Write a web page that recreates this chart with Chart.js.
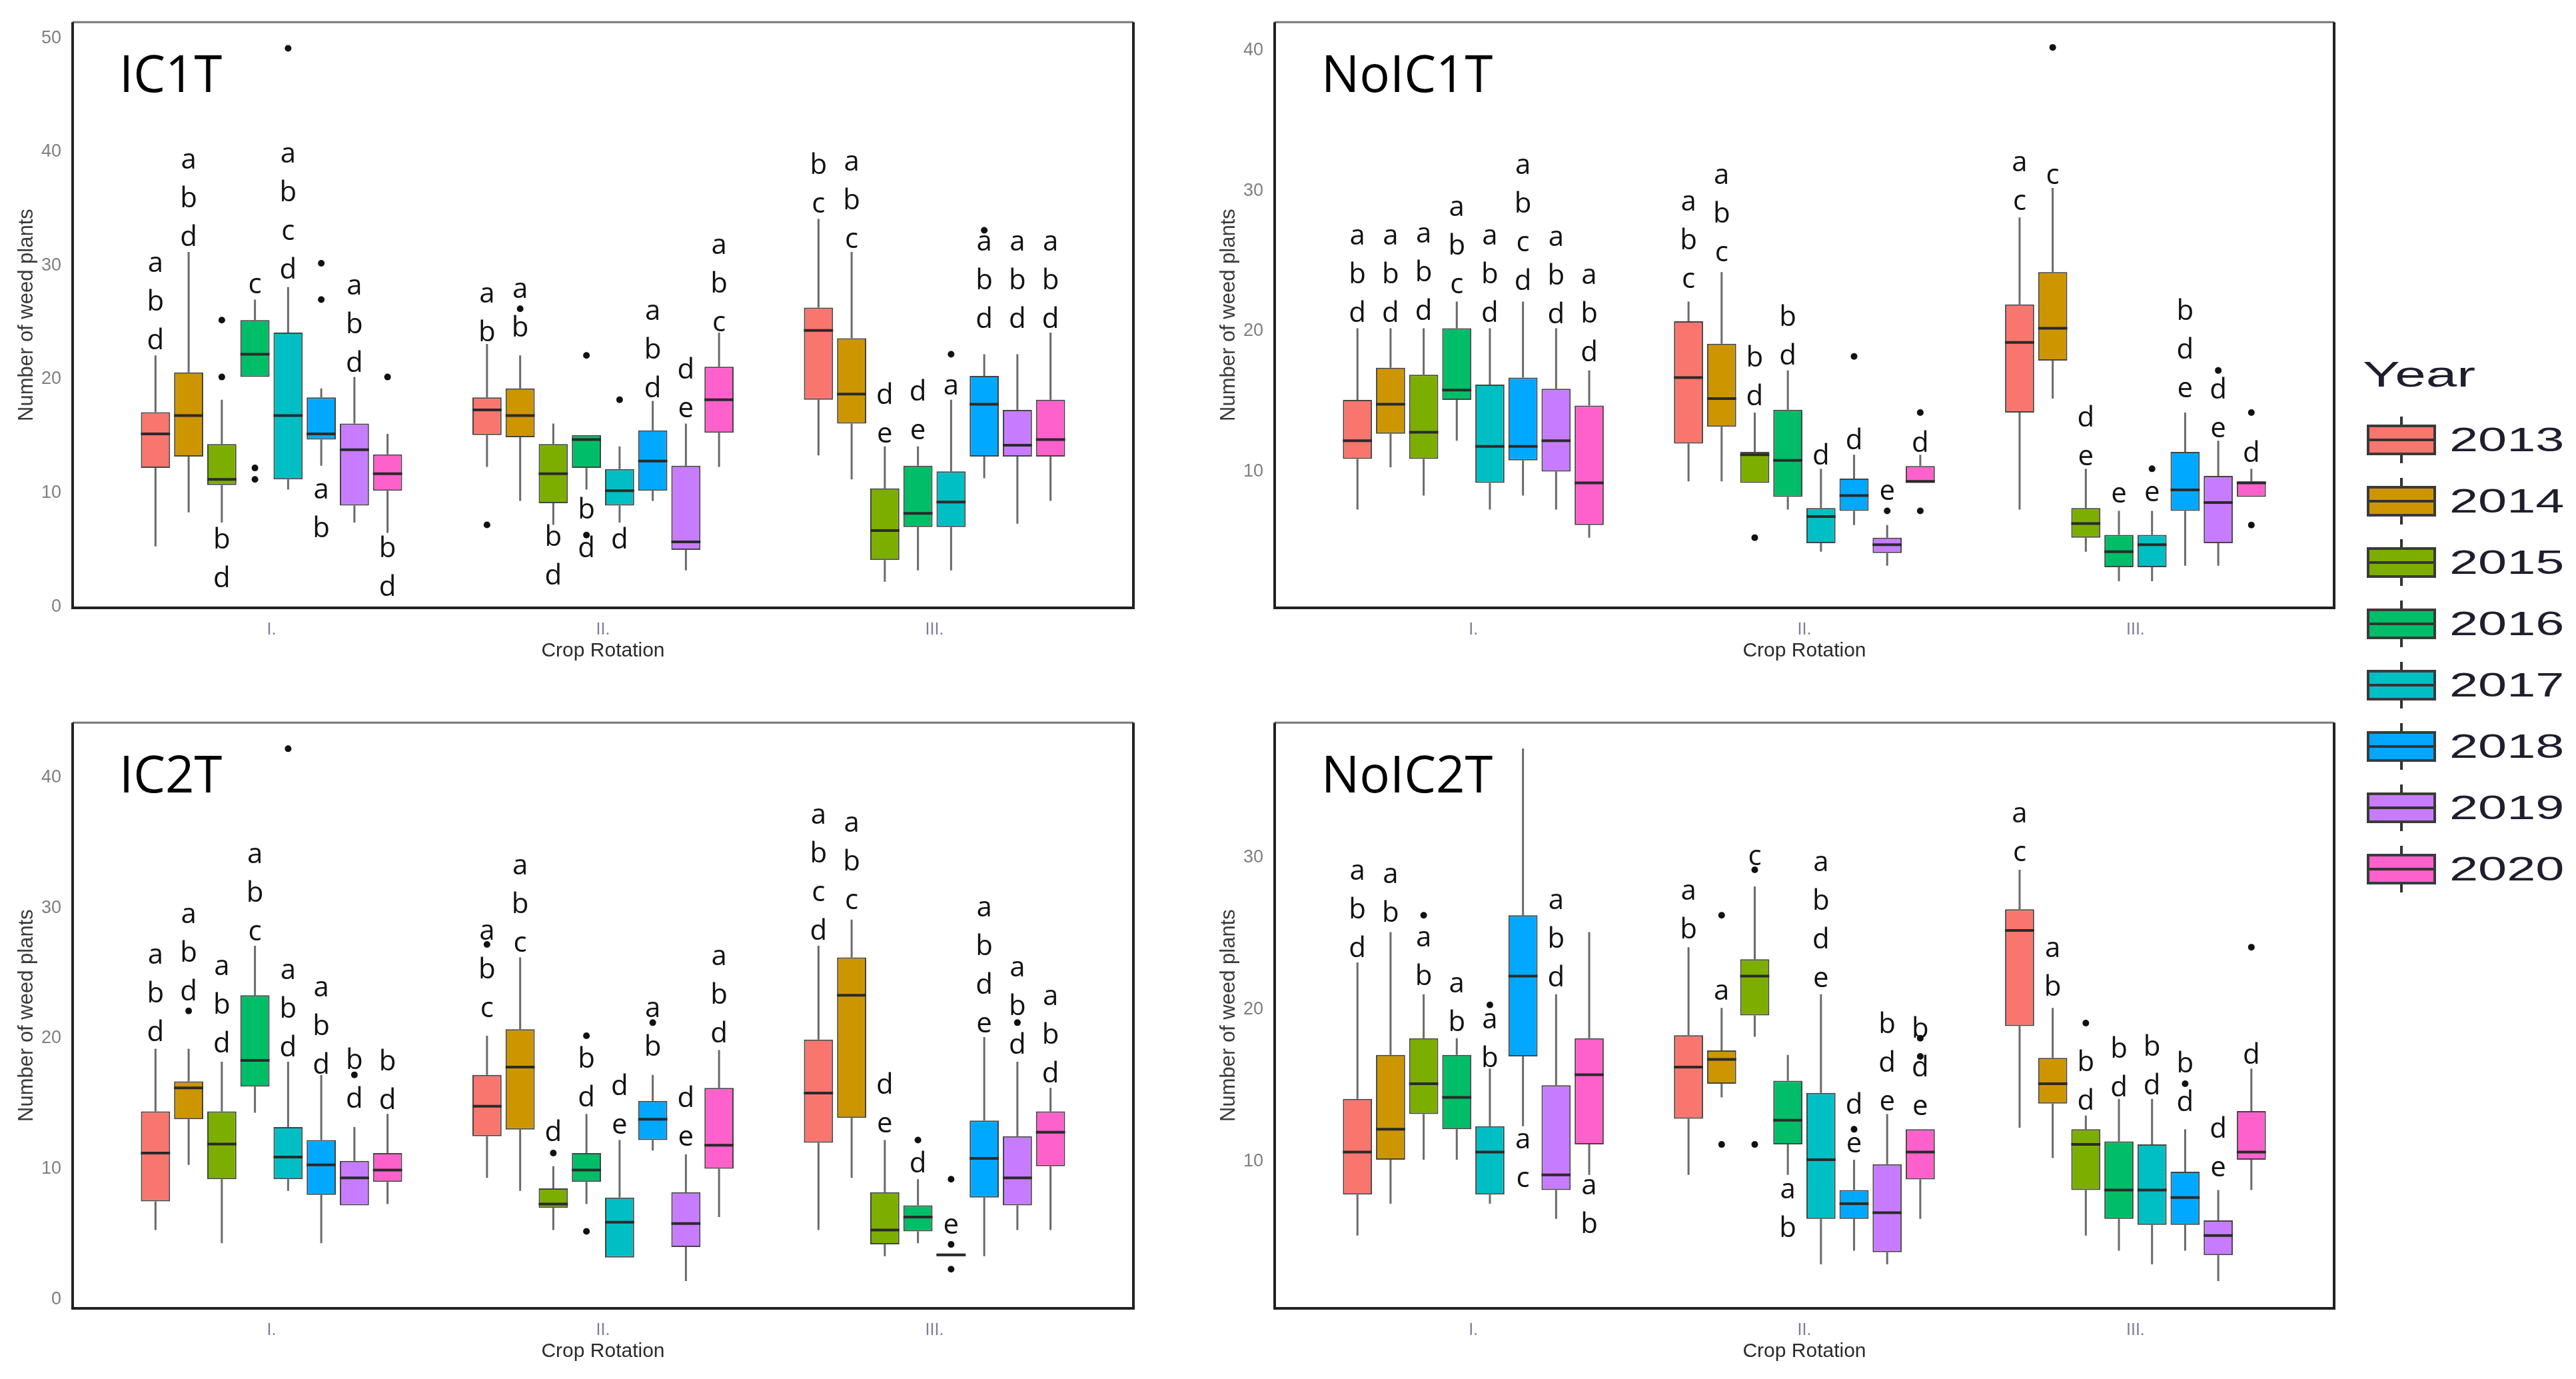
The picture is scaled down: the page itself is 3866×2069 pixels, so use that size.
<!DOCTYPE html>
<html>
<head>
<meta charset="utf-8">
<script src="https://cdn.jsdelivr.net/npm/chart.js@4.4.1/dist/chart.umd.min.js"></script>
<style>
  html, body { margin: 0; padding: 0; background: #fff; }
  body { width: 3866px; height: 2069px; position: relative; overflow: hidden; font-family: "Liberation Sans", Arial, sans-serif; }
  canvas { position: absolute; }
  .leg-title { position: absolute; left: 3546px; top: 530px; font-size: 54px; color: #1e1e2e; transform: scaleX(1.55); transform-origin: left center; }
  .leg-whisker { position: absolute; width: 4px; height: 70px; background: #333; }
  .leg-box { position: absolute; width: 104px; height: 46px; box-sizing: border-box; border: 4px solid #3a3a3a; }
  .leg-box::after { content: ""; position: absolute; left: 0; right: 0; top: 50%; height: 4px; margin-top: -2px; background: #333; }
  .leg-text { position: absolute; left: 3676px; font-size: 50px; color: #1e1e2e; line-height: 50px; transform: scaleX(1.55); transform-origin: left center; }
</style>
</head>
<body>
<canvas id="ic1t" width="1711" height="1012" style="left:0px;top:0px"></canvas>
<canvas id="noic1t" width="1709" height="1012" style="left:1804px;top:0px"></canvas>
<canvas id="ic2t" width="1711" height="1012" style="left:0px;top:1051px"></canvas>
<canvas id="noic2t" width="1709" height="1012" style="left:1804px;top:1051px"></canvas>
<div id="legend"></div>
<script>
// categories
const years = ['2013', '2014', '2015', '2016', '2017', '2018', '2019', '2020'];
const rotations = ['I.', 'II.', 'III.'];
const yearColors = ['#F8766D', '#CD9600', '#7CAE00', '#00BE67', '#00BFC4', '#00A9FF', '#C77CFF', '#FF61CC'];

// one row per box: [lower whisker, q1, median, q3, upper whisker]
// rows go I. 2013..2020, then II. 2013..2020, then III. 2013..2020
const ic1tBoxes = [
  [5.3, 12.2, 15.2, 17.1, 22.1], [8.3, 13.2, 16.8, 20.6, 31.2], [7.4, 10.7, 11.2, 14.3, 18.2], [20.2, 20.2, 22.2, 25.2, 27.0],
  [10.3, 11.2, 16.8, 24.1, 28.1], [12.4, 14.7, 15.2, 18.4, 19.2], [7.4, 8.9, 13.8, 16.1, 20.2], [6.5, 10.2, 11.7, 13.4, 15.2],
  [12.3, 15.1, 17.3, 18.4, 23.1], [9.3, 14.9, 16.8, 19.2, 22.1], [7.2, 9.1, 11.7, 14.3, 16.1], [10.3, 12.2, 14.7, 15.1, 15.1],
  [7.4, 8.9, 10.2, 12.1, 14.1], [9.3, 10.2, 12.8, 15.5, 18.1], [3.2, 5.0, 5.7, 12.4, 16.1], [12.3, 15.3, 18.2, 21.1, 24.1],
  [13.3, 18.2, 24.3, 26.3, 34.1], [11.2, 16.1, 18.7, 23.6, 31.2], [2.2, 4.1, 6.7, 10.4, 14.1], [3.2, 7.0, 8.2, 12.4, 14.1],
  [3.2, 7.0, 9.2, 11.9, 18.2], [11.3, 13.2, 17.8, 20.3, 22.2], [7.3, 13.2, 14.2, 17.3, 22.2], [9.3, 13.2, 14.7, 18.2, 24.1]
];
const noic1tBoxes = [
  [7.3, 10.9, 12.2, 15.1, 20.2], [10.3, 12.7, 14.8, 17.4, 20.2], [8.3, 10.9, 12.8, 16.9, 20.2], [12.2, 15.1, 15.8, 20.2, 22.1],
  [7.3, 9.2, 11.8, 16.2, 20.2], [8.3, 10.8, 11.8, 16.7, 22.1], [7.3, 10.0, 12.2, 15.9, 20.2], [5.3, 6.2, 9.2, 14.7, 17.2],
  [9.3, 12.0, 16.7, 20.7, 22.1], [9.3, 13.2, 15.2, 19.1, 24.2], [9.2, 9.2, 11.2, 11.4, 14.2], [7.3, 8.2, 10.8, 14.4, 17.2],
  [4.3, 4.9, 6.8, 7.4, 10.2], [6.2, 7.2, 8.3, 9.5, 11.2], [3.3, 4.2, 4.8, 5.3, 6.2], [9.2, 9.2, 9.3, 10.4, 11.2],
  [7.3, 14.2, 19.2, 21.9, 28.1], [15.2, 17.9, 20.2, 24.2, 30.2], [4.3, 5.3, 6.3, 7.4, 10.2], [2.2, 3.2, 4.3, 5.5, 7.2],
  [2.2, 3.2, 4.8, 5.5, 7.2], [3.3, 7.2, 8.7, 11.4, 14.2], [3.3, 4.9, 7.8, 9.7, 12.2], [8.2, 8.2, 9.2, 9.3, 10.2]
];
const ic2tBoxes = [
  [5.3, 7.5, 11.2, 14.4, 19.2], [10.3, 13.8, 16.2, 16.7, 19.2], [4.3, 9.2, 11.9, 14.4, 18.2], [14.3, 16.3, 18.3, 23.3, 27.1],
  [8.3, 9.2, 10.9, 13.2, 18.2], [4.3, 8.0, 10.3, 12.2, 17.2], [7.2, 7.2, 9.3, 10.6, 13.2], [7.3, 9.0, 9.9, 11.2, 14.2],
  [9.3, 12.5, 14.8, 17.2, 20.2], [8.3, 13.0, 17.8, 20.7, 26.2], [5.3, 7.0, 7.3, 8.5, 10.2], [7.3, 9.0, 9.9, 11.2, 14.2],
  [3.2, 3.2, 5.9, 7.8, 12.2], [11.4, 12.2, 13.8, 15.2, 17.2], [1.4, 4.0, 5.8, 8.2, 11.1], [6.3, 10.0, 11.8, 16.2, 19.1],
  [5.3, 12.0, 15.8, 19.9, 27.1], [9.3, 13.9, 23.3, 26.2, 29.1], [3.3, 4.2, 5.3, 8.2, 12.2], [4.3, 5.2, 6.3, 7.2, 9.2],
  [3.3, 3.3, 3.4, 3.5, 3.5], [3.3, 7.8, 10.8, 13.7, 20.1], [5.3, 7.2, 9.3, 12.5, 18.2], [5.3, 10.2, 12.8, 14.4, 16.2]
];
const noic2tBoxes = [
  [5.1, 7.8, 10.6, 14.1, 23.1], [7.2, 10.1, 12.1, 17.0, 25.1], [10.1, 13.1, 15.1, 18.1, 21.0], [10.1, 12.1, 14.2, 17.0, 18.1],
  [7.2, 7.8, 10.6, 12.3, 16.1], [12.3, 16.9, 22.2, 26.2, 37.2], [6.2, 8.1, 9.1, 15.0, 21.0], [9.1, 11.1, 15.7, 18.1, 25.1],
  [9.1, 12.8, 16.2, 18.3, 24.1], [14.2, 15.1, 16.7, 17.3, 20.1], [18.2, 19.6, 22.2, 23.3, 28.1], [9.1, 11.1, 12.7, 15.3, 17.0],
  [3.2, 6.2, 10.1, 14.5, 21.0], [4.1, 6.2, 7.2, 8.1, 10.1], [3.2, 4.0, 6.6, 9.8, 13.1], [6.2, 8.8, 10.6, 12.1, 12.1],
  [12.2, 18.9, 25.2, 26.6, 29.2], [10.2, 13.8, 15.1, 16.8, 20.1], [5.1, 8.1, 11.1, 12.1, 13.0], [4.1, 6.2, 8.1, 11.3, 14.1],
  [3.2, 5.8, 8.1, 11.1, 14.1], [4.1, 5.8, 7.6, 9.3, 12.1], [2.1, 3.8, 5.1, 6.1, 8.1], [8.1, 10.1, 10.6, 13.3, 16.1]
];

// outliers: [box row, value]
const ic1tOutliers = [[2, 25.2], [2, 20.2], [3, 12.2], [3, 11.2], [4, 49.1], [5, 30.2], [5, 27.0], [7, 20.2],
  [8, 7.2], [9, 26.2], [11, 22.1], [11, 6.3], [12, 18.2], [20, 22.2], [21, 33.1]];
const noic1tOutliers = [[10, 5.3], [13, 18.2], [14, 7.2], [15, 14.2], [15, 7.2], [17, 40.2], [20, 10.2],
  [22, 17.2], [23, 14.2], [23, 6.2]];
const ic2tOutliers = [[1, 22.1], [4, 42.2], [6, 17.2], [8, 27.2], [10, 11.2], [11, 20.2], [11, 5.2], [13, 21.2],
  [19, 12.2], [20, 9.2], [20, 4.2], [20, 2.3], [22, 21.2]];
const noic2tOutliers = [[2, 26.2], [4, 20.3], [9, 26.2], [9, 11.1], [10, 29.2], [10, 11.1], [13, 12.1],
  [15, 18.1], [15, 16.9], [18, 19.1], [21, 15.1], [23, 24.1]];

// significance letters per box, and the value where the first letter of each stack sits
const ic1tLetters = ['abd', 'abd', 'bd', 'c', 'abcd', 'ab', 'abd', 'bd',
  'ab', 'ab', 'bd', 'bd', 'd', 'abd', 'de', 'abc',
  'bc', 'abc', 'de', 'de', 'a', 'abd', 'abd', 'abd'];
const ic1tLetterAt = [30.2, 39.3, 5.9, 28.3, 39.8, 10.3, 28.2, 5.1,
  27.5, 27.9, 6.1, 8.5, 5.9, 26.0, 20.8, 31.8,
  38.8, 39.1, 18.6, 18.9, 19.4, 32.1, 32.1, 32.1];
const noic1tLetters = ['abd', 'abd', 'abd', 'abc', 'abd', 'abcd', 'abd', 'abd',
  'abc', 'abc', 'bd', 'bd', 'd', 'd', 'e', 'd',
  'ac', 'c', 'de', 'e', 'e', 'bde', 'de', 'd'];
const noic1tLetterAt = [26.8, 26.8, 26.9, 28.8, 26.8, 31.8, 26.7, 24.0,
  29.2, 31.1, 18.1, 21.0, 11.1, 12.2, 8.6, 12.0,
  32.0, 31.1, 13.8, 8.4, 8.5, 21.4, 15.8, 11.3];
const ic2tLetters = ['abd', 'abd', 'abd', 'abc', 'abd', 'abd', 'bd', 'bd',
  'abc', 'abc', 'd', 'bd', 'de', 'ab', 'de', 'abd',
  'abcd', 'abc', 'de', 'd', 'e', 'abde', 'abd', 'abd'];
const ic2tLetterAt = [26.4, 29.5, 25.5, 34.1, 25.2, 23.9, 18.3, 18.2,
  28.2, 33.2, 12.8, 18.4, 16.3, 22.3, 15.4, 26.3,
  37.1, 36.5, 16.4, 10.4, 5.7, 30.0, 25.4, 23.2];
const noic2tLetters = ['abd', 'ab', 'ab', 'ab', 'ab', 'ac', 'abd', 'ab',
  'ab', 'a', 'c', 'ab', 'abde', 'de', 'bde', 'bde',
  'ac', 'ab', 'bd', 'bd', 'bd', 'bd', 'de', 'd'];
const noic2tLetterAt = [29.1, 28.9, 24.7, 21.7, 19.3, 11.4, 27.2, 8.4,
  27.8, 21.2, 30.1, 8.1, 29.7, 13.7, 19.0, 18.7,
  32.9, 24.0, 16.5, 17.4, 17.5, 16.4, 12.1, 17.0];

// y axis ranges of each panel
const ic1tRange = [-0.1, 51.4];
const noic1tRange = [0.3, 42.0];
const ic2tRange = [-0.7, 44.2];
const noic2tRange = [0.3, 38.9];

Chart.defaults.font.family = '"Liberation Sans", Arial, sans-serif';

// draws whiskers, medians, outliers, letters, the frame and the panel name
const boxplotPlugin = {
  id: 'boxplot',
  beforeDatasetsDraw(chart) {
    const ctx = chart.ctx;
    const yScale = chart.scales.y;
    ctx.save();
    ctx.strokeStyle = '#6a6a6a';
    ctx.lineWidth = 3;
    chart.data.datasets.forEach((ds, di) => {
      chart.getDatasetMeta(di).data.forEach((bar, i) => {
        const s = ds.stats[i];
        ctx.beginPath();
        ctx.moveTo(bar.x, yScale.getPixelForValue(s[0]));
        ctx.lineTo(bar.x, yScale.getPixelForValue(s[1]));
        ctx.moveTo(bar.x, yScale.getPixelForValue(s[3]));
        ctx.lineTo(bar.x, yScale.getPixelForValue(s[4]));
        ctx.stroke();
      });
    });
    ctx.restore();
  },
  afterDatasetsDraw(chart) {
    const ctx = chart.ctx;
    const yScale = chart.scales.y;
    const extra = chart.options.plugins.boxplot;
    ctx.save();
    // medians
    ctx.strokeStyle = '#2a2a2a';
    ctx.lineWidth = 4;
    chart.data.datasets.forEach((ds, di) => {
      chart.getDatasetMeta(di).data.forEach((bar, i) => {
        const y = yScale.getPixelForValue(ds.stats[i][2]);
        ctx.beginPath();
        ctx.moveTo(bar.x - bar.width / 2, y);
        ctx.lineTo(bar.x + bar.width / 2, y);
        ctx.stroke();
      });
    });
    // outliers
    ctx.fillStyle = '#111';
    extra.outliers.forEach(([row, v]) => {
      const bar = chart.getDatasetMeta(row % 8).data[Math.floor(row / 8)];
      ctx.beginPath();
      ctx.arc(bar.x, yScale.getPixelForValue(v), 5, 0, Math.PI * 2);
      ctx.fill();
    });
    // letters
    ctx.fillStyle = '#111';
    ctx.font = '42px "Open Sans"';
    ctx.textAlign = 'center';
    ctx.textBaseline = 'alphabetic';
    extra.letters.forEach((str, row) => {
      const bar = chart.getDatasetMeta(row % 8).data[Math.floor(row / 8)];
      const top = yScale.getPixelForValue(extra.letterAt[row]);
      str.split('').forEach((ch, j) => ctx.fillText(ch, bar.x, top + j * 58 + 13));
    });
    ctx.restore();
  },
  afterDraw(chart) {
    const ctx = chart.ctx;
    const a = chart.chartArea;
    ctx.save();
    ctx.strokeStyle = '#777';
    ctx.lineWidth = 3;
    ctx.beginPath();
    ctx.moveTo(a.left, a.top);
    ctx.lineTo(a.right, a.top);
    ctx.stroke();
    ctx.strokeStyle = '#222';
    ctx.lineWidth = 4;
    ctx.beginPath();
    ctx.moveTo(a.left, a.top);
    ctx.lineTo(a.left, a.bottom);
    ctx.lineTo(a.right, a.bottom);
    ctx.lineTo(a.right, a.top);
    ctx.stroke();
    ctx.fillStyle = '#000';
    ctx.font = '76px "Open Sans"';
    ctx.textAlign = 'left';
    ctx.textBaseline = 'alphabetic';
    ctx.fillText(chart.options.plugins.boxplot.name, a.left + 70, a.top + 105);
    ctx.restore();
  }
};

function renderPanel(canvasId, name, boxes, outliers, letters, letterAt, range) {
  const datasets = years.map((yr, k) => ({
    label: yr,
    data: rotations.map((r, ri) => ({ x: ri + 1, y: [boxes[ri * 8 + k][1], boxes[ri * 8 + k][3]] })),
    stats: rotations.map((r, ri) => boxes[ri * 8 + k]),
    backgroundColor: yearColors[k],
    borderColor: '#444',
    borderWidth: 2,
    borderSkipped: false,
    categoryPercentage: 0.8,
    barPercentage: 0.88
  }));

  return new Chart(document.getElementById(canvasId), {
    type: 'bar',
    data: { datasets },
    options: {
      responsive: false,
      animation: false,
      devicePixelRatio: 1,
      layout: { padding: { left: 0, top: 22, right: 10, bottom: 0 } },
      plugins: {
        legend: { display: false },
        tooltip: { enabled: false },
        boxplot: { name, outliers, letters, letterAt }
      },
      scales: {
        x: {
          type: 'linear',
          min: 0.4,
          max: 3.6,
          offset: false,
          afterBuildTicks: s => { s.ticks = rotations.map((r, i) => ({ value: i + 1 })); },
          ticks: { callback: v => rotations[Math.round(v) - 1], color: '#7c7c9e', font: { size: 25 }, padding: 18, autoSkip: false, maxRotation: 0 },
          grid: { display: false, drawTicks: false },
          border: { display: false },
          title: { display: true, text: 'Crop Rotation', color: '#2a2a2a', font: { size: 30 }, padding: { top: 0, bottom: 17 } },
          afterFit: s => { s.height = 100; }
        },
        y: {
          min: range[0],
          max: range[1],
          ticks: { stepSize: 10, includeBounds: false, color: '#7f7f7f', font: { size: 27 }, padding: 17 },
          grid: { display: false, drawTicks: false },
          border: { display: false },
          title: { display: true, text: 'Number of weed plants', color: '#3a3a3a', font: { size: 31 }, padding: { top: 22, bottom: 0 } },
          afterFit: s => { s.width = 109; }
        }
      }
    },
    plugins: [boxplotPlugin]
  });
}

renderPanel('ic1t', 'IC1T', ic1tBoxes, ic1tOutliers, ic1tLetters, ic1tLetterAt, ic1tRange);
renderPanel('noic1t', 'NoIC1T', noic1tBoxes, noic1tOutliers, noic1tLetters, noic1tLetterAt, noic1tRange);
renderPanel('ic2t', 'IC2T', ic2tBoxes, ic2tOutliers, ic2tLetters, ic2tLetterAt, ic2tRange);
renderPanel('noic2t', 'NoIC2T', noic2tBoxes, noic2tOutliers, noic2tLetters, noic2tLetterAt, noic2tRange);

// legend
const legend = document.getElementById('legend');
legend.innerHTML = '<div class="leg-title">Year</div>' + years.map((yr, k) => {
  const cy = 660 + k * 92;
  return `<div class="leg-whisker" style="left:${3552 + 50}px;top:${cy - 35}px"></div>` +
    `<div class="leg-box" style="left:3552px;top:${cy - 23}px;background:${yearColors[k]}"></div>` +
    `<div class="leg-text" style="top:${cy - 25}px">${yr}</div>`;
}).join('');
</script>
</body>
</html>
